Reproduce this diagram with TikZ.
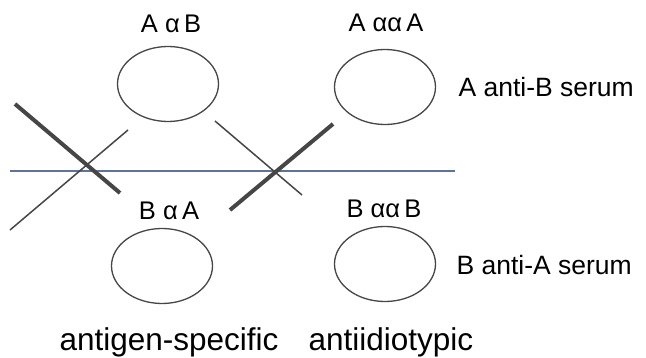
\documentclass[tikz,border=0pt]{standalone}
\usepackage{fontspec}
\setmainfont{Liberation Sans}
\usepackage{xcolor}
\usetikzlibrary{shapes.geometric}

\definecolor{inkgray}{RGB}{70,70,70}
\definecolor{axisblue}{RGB}{95,115,150}

\tikzset{
  cell/.style={draw=inkgray, line width=1.3pt, ellipse, inner sep=0pt,
    minimum width=101pt, minimum height=75pt},
  idlabel/.style={anchor=base, font=\fontsize{25.5}{30}\selectfont},
  serum/.style={anchor=base west, font=\fontsize{26.5}{31}\selectfont},
  kind/.style={anchor=base west, font=\fontsize{31.5}{36}\selectfont},
  bar/.style={draw=inkgray, line width=4pt},
  thinbar/.style={draw=inkgray, line width=1.5pt}
}

\begin{document}
\begin{tikzpicture}[x=1pt, y=-1pt]
  \useasboundingbox (0,0) rectangle (646,358);
  % idiotype cells
  \node[cell] (ab) at (168,84) {};
  \node[cell] (aa) at (385,87) {};
  \node[cell] (ba) at (162,266) {};
  \node[cell] (bb) at (385,264) {};
  \node[idlabel] (ablab) at (171,33) {A α\,B};
  \node[idlabel] (aalab) at (386,32) {A αα\,A};
  \node[idlabel] (balab) at (169,220) {B α\,A};
  \node[idlabel] (bblab) at (384,218) {B αα\,B};
  \node[serum] (sera) at (455,97) {A anti-B serum};
  \node[serum] (serb) at (453,275) {B anti-A serum};
  \node[kind] (spec) at (56,351) {antigen-specific};
  \node[kind] (anti) at (305,351) {antiidiotypic};
  % divider and crossings
  \coordinate (hl) at (10,171);
  \coordinate (hr) at (455,171);
  \draw[axisblue, line width=1.3pt] (hl) -- (hr);
  \coordinate (t1a) at (15,104);
  \coordinate (t1b) at (120,193);
  \coordinate (s1a) at (128,130);
  \coordinate (s1b) at (10,230);
  \coordinate (s2a) at (215,121);
  \coordinate (s2b) at (302,195);
  \coordinate (t2a) at (230,210);
  \coordinate (t2b) at (333,124);
  \draw[bar] (t1a) -- (t1b);
  \draw[thinbar] (s1a) -- (s1b);
  \draw[thinbar] (s2a) -- (s2b);
  \draw[bar] (t2a) -- (t2b);
\end{tikzpicture}
\end{document}
